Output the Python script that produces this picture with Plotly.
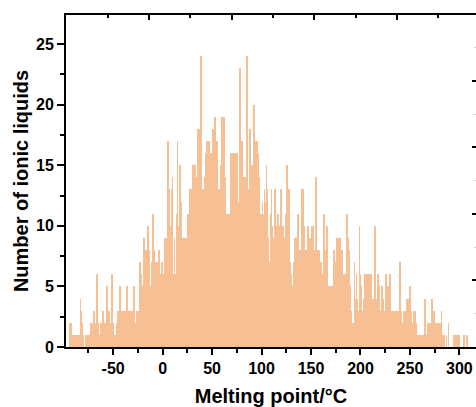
import plotly.graph_objects as go

# Histogram bins: 1 °C wide, bin centres from -95 to 310 °C
bin_start = -95
counts = [
    # -95 .. -86
    0, 2, 2, 1, 1, 0, 1, 1, 1, 1,
    # -85 .. -76
    1, 1, 4, 3, 2, 1, 0, 1, 1, 1,
    # -75 .. -66
    1, 1, 2, 2, 2, 2, 3, 1, 2, 6,
    # -65 .. -56
    2, 1, 1, 2, 2, 3, 2, 1, 2, 5,
    # -55 .. -46
    2, 3, 2, 2, 6, 2, 1, 1, 1, 2,
    # -45 .. -36
    3, 2, 5, 3, 3, 1, 3, 3, 2, 5,
    # -35 .. -26
    3, 3, 3, 2, 3, 2, 5, 2, 2, 3,
    # -25 .. -16
    2, 3, 7, 6, 5, 3, 9, 5, 8, 8,
    # -15 .. -6
    10, 8, 3, 5, 7, 11, 8, 6, 7, 7,
    # -5 .. 4
    7, 8, 6, 6, 7, 6, 6, 9, 8, 9,
    # 5 .. 14
    17, 12, 13, 10, 13, 14, 6, 9, 6, 11,
    # 15 .. 24
    17, 10, 15, 15, 12, 9, 8, 9, 7, 9,
    # 25 .. 34
    9, 11, 10, 13, 12, 13, 15, 13, 15, 14,
    # 35 .. 44
    13, 18, 17, 18, 24, 13, 10, 13, 14, 16,
    # 45 .. 54
    17, 14, 17, 11, 16, 12, 18, 14, 19, 12,
    # 55 .. 64
    17, 10, 13, 11, 15, 19, 16, 19, 14, 10,
    # 65 .. 74
    11, 11, 8, 11, 16, 16, 12, 16, 16, 15,
    # 75 .. 84
    16, 3, 12, 23, 17, 17, 9, 14, 14, 7,
    # 85 .. 94
    24, 12, 13, 18, 14, 15, 13, 20, 12, 17,
    # 95 .. 104
    17, 16, 10, 14, 11, 11, 12, 11, 13, 12,
    # 105 .. 114
    15, 13, 9, 7, 11, 13, 10, 7, 9, 13,
    # 115 .. 124
    10, 10, 11, 10, 8, 13, 9, 10, 9, 7,
    # 125 .. 134
    11, 15, 9, 13, 7, 6, 5, 4, 7, 9,
    # 135 .. 144
    9, 6, 11, 4, 8, 7, 13, 13, 10, 6,
    # 145 .. 154
    8, 7, 10, 8, 9, 9, 10, 10, 7, 8,
    # 155 .. 164
    14, 7, 8, 8, 6, 7, 5, 6, 11, 8,
    # 165 .. 174
    5, 10, 5, 5, 3, 5, 5, 5, 8, 6,
    # 175 .. 184
    7, 9, 9, 7, 9, 6, 8, 5, 6, 4,
    # 185 .. 194
    6, 11, 9, 8, 5, 4, 3, 2, 2, 7,
    # 195 .. 204
    4, 6, 4, 3, 10, 6, 5, 3, 4, 3,
    # 205 .. 214
    6, 4, 6, 4, 6, 3, 6, 4, 3, 4,
    # 215 .. 224
    10, 3, 4, 6, 5, 3, 1, 5, 4, 3,
    # 225 .. 234
    3, 6, 3, 5, 3, 6, 2, 3, 3, 3,
    # 235 .. 244
    2, 3, 2, 3, 2, 7, 3, 2, 2, 3,
    # 245 .. 254
    2, 3, 4, 4, 3, 5, 3, 2, 2, 3,
    # 255 .. 264
    3, 2, 1, 1, 1, 1, 1, 1, 1, 1,
    # 265 .. 274
    4, 1, 1, 2, 2, 2, 1, 4, 2, 3,
    # 275 .. 284
    1, 2, 2, 2, 2, 2, 1, 3, 1, 1,
    # 285 .. 294
    1, 0, 1, 0, 2, 0, 0, 0, 0, 1,
    # 295 .. 304
    1, 0, 1, 1, 0, 1, 0, 0, 0, 0,
    # 305 .. 310
    1, 0, 0, 1, 0, 0,
]
melting_points = [bin_start + i for i in range(len(counts))]

x_tick_vals = [-50, 0, 50, 100, 150, 200, 250, 300]
x_tick_text = ["-50", "0", "50", "100", "150", "200", "250", "300"]
y_tick_vals = [0, 5, 10, 15, 20, 25]
y_tick_text = ["0", "5", "10", "15", "20", "25"]

x_title = "Melting point/°C"
y_title = "Number of ionic liquids"

BAR_COLOR = "rgb(246,192,148)"
FONT = "Liberation Sans, Arial, sans-serif"

fig = go.Figure()
fig.add_trace(go.Bar(
    x=melting_points, y=counts, width=0.85,
    marker=dict(color=BAR_COLOR, line=dict(width=0)),
    showlegend=False, hoverinfo="x+y",
))
# invisible helper trace so the neighbouring-panel tick axes (top / right) get drawn
fig.add_trace(go.Scatter(x=[0], y=[0], xaxis="x2", yaxis="y2", mode="markers",
                         marker=dict(opacity=0), hoverinfo="skip", showlegend=False))

fig.update_layout(
    width=476, height=407,
    margin=dict(l=66, r=0, t=15, b=60, autoexpand=False),
    paper_bgcolor="white", plot_bgcolor="white",
    bargap=0,
    font=dict(family=FONT, color="black"),
    xaxis=dict(
        range=[-97.7, 316.8], automargin=False,
        tickmode="array", tickvals=x_tick_vals, ticktext=x_tick_text,
        ticks="outside", ticklen=6, tickwidth=2, tickcolor="black",
        minor=dict(dtick=25, tick0=0, ticks="outside", ticklen=4, tickwidth=2, tickcolor="black"),
        showline=True, linewidth=2, linecolor="black",
        showgrid=False, zeroline=False,
        tickfont=dict(family=FONT, size=16, color="black", weight="bold"),
        title=dict(text="<b>" + x_title + "</b>", font=dict(family=FONT, size=20, color="black"), standoff=13),
    ),
    yaxis=dict(
        range=[0, 27.4], automargin=False,
        tickmode="array", tickvals=y_tick_vals, ticktext=y_tick_text,
        ticks="outside", ticklen=7, tickwidth=2, tickcolor="black",
        minor=dict(dtick=2.5, tick0=0, ticks="outside", ticklen=4, tickwidth=2, tickcolor="black"),
        showline=True, linewidth=2, linecolor="black",
        showgrid=False, zeroline=False,
        tickfont=dict(family=FONT, size=16, color="black", weight="bold"),
        title=dict(text="<b>" + y_title + "</b>", font=dict(family=FONT, size=20, color="black"), standoff=2),
    ),
    xaxis2=dict(
        overlaying="x", side="top", anchor="y", automargin=False,
        range=[-1.0036, 3.954], tickmode="linear", tick0=0, dtick=1,
        ticks="inside", ticklen=5, tickwidth=2, tickcolor="black",
        minor=dict(dtick=0.5, tick0=0, ticks="inside", ticklen=3, tickwidth=2, tickcolor="black"),
        showticklabels=False, showgrid=False, zeroline=False,
        showline=True, linewidth=2, linecolor="black",
    ),
    yaxis2=dict(
        overlaying="y", side="right", anchor="x", automargin=False,
        range=[-1, 3.99], tickmode="linear", tick0=0, dtick=1,
        ticks="inside", ticklen=4, tickwidth=2, tickcolor="black",
        minor=dict(dtick=0.5, tick0=0, ticks="inside", ticklen=2, tickwidth=1, tickcolor="rgb(200,200,200)"),
        showticklabels=False, showgrid=False, zeroline=False, showline=False,
    ),
)

fig.write_html("out.html", config={"displayModeBar": False},
               post_script="document.body.style.margin='0px';")
